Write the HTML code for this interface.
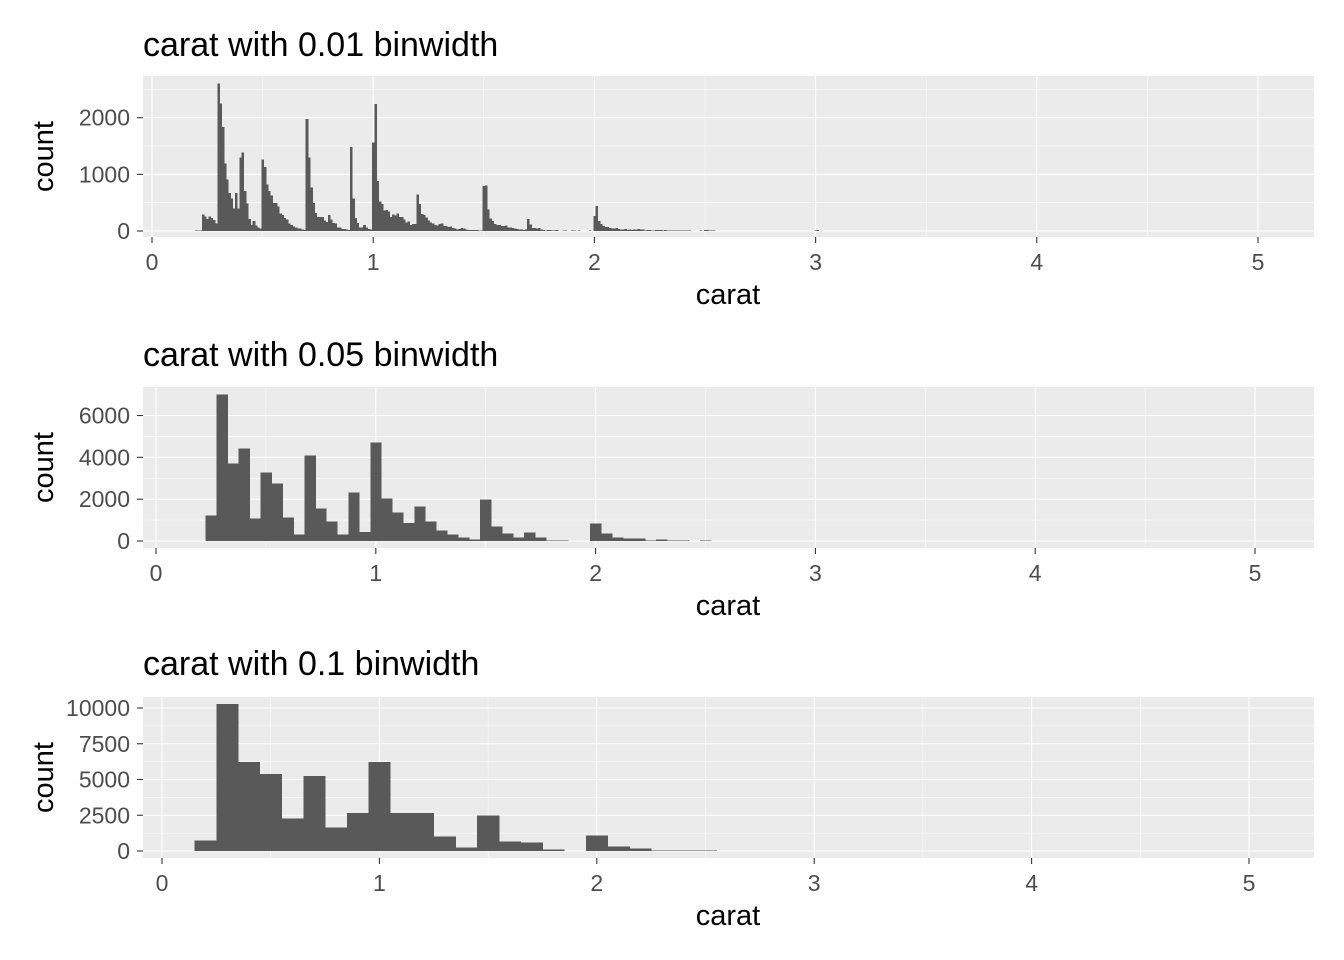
<!DOCTYPE html>
<html><head><meta charset="utf-8"><style>
body{margin:0;background:#fff;}
svg{display:block;font-family:"Liberation Sans",Arial,sans-serif;}
</style></head><body>
<svg id="chart" width="1344" height="960" viewBox="0 0 1344 960"></svg>
<script>
// Panel 1: 0.01 binwidth, bin centers starting at 0.20
const p1Start = 0.20;
const p1Counts = [12,9,5,293,254,212,253,233,198,130,
2604,2249,1840,1189,910,667,572,394,670,398,
1299,1382,706,488,212,110,178,99,63,45,
1258,1127,817,709,625,496,492,430,310,282,
228,204,135,102,80,65,48,48,25,20,
1981,1294,764,492,322,249,251,251,187,155,
284,200,140,131,64,62,34,31,23,21,
1485,570,226,142,59,65,103,59,31,23,
1558,2242,883,523,475,361,373,342,246,287,
278,308,251,246,207,149,172,110,123,126,
645,473,300,279,236,187,146,134,106,101,
122,133,89,87,68,77,50,46,26,36,
50,40,25,19,18,15,14,21,7,13,
793,807,381,220,174,124,108,106,89,89,
95,64,61,50,43,32,30,25,19,24,
215,119,57,52,40,50,28,17,12,15,
21,9,13,18,4,3,9,7,4,4,
7,12,2,6,3,3,4,4,5,3,
265,440,177,122,86,67,72,50,41,45,
52,37,27,29,38,22,27,20,30,24,
31,23,26,13,16,14,13,12,20,17,
21,13,16,9,5,7,8,9,8,6,
13,5,8,6,4,4,4,3,9,3,
17,17,9,8,9,3];
const p1ExtraCarat = [3.00,3.01,3.02,3.04,3.05,3.11,3.22,3.24,3.40,3.50,3.51,3.65,3.67,4.00,4.01,4.13,4.50,5.01];
const p1ExtraCount = [8,14,3,2,1,1,1,1,1,1,1,1,1,1,2,1,1,1];
// Panel 2: 0.05 binwidth, bins start at 0.225
const p2Start = 0.225;
const p2Counts = [1225,7000,3705,4420,1080,3275,2750,1130,318,4086,
1558,938,318,2321,429,4706,2035,1367,859,1654,
938,509,318,175,80,1988,700,366,175,413,
175,30,30,0,0,843,366,175,127,127,
30,80,30,30,0,30];
// Panel 3: 0.1 binwidth, bins start at 0.15
const p3Start = 0.15;
const p3Counts = [748,10278,6214,5373,2289,5233,1659,2640,6214,2640,
2640,1028,257,2500,677,607,117,0,1098,327,
187,47,47,40];
const xTicks = [0,1,2,3,4,5];
const p1YTicks = [0,1000,2000];
const p2YTicks = [0,2000,4000,6000];
const p3YTicks = [0,2500,5000,7500,10000];

const NS='http://www.w3.org/2000/svg';
const svg=document.getElementById('chart');
function mk(tag,attrs,parent){const e=document.createElementNS(NS,tag);for(const k in attrs)e.setAttribute(k,attrs[k]);(parent||svg).appendChild(e);return e;}

const panels=[
 {title:'carat with 0.01 binwidth',top:76,bot:237,x0:152,x5:1258,y0:231,yRef:2000,yRefPx:117.7,yTicks:p1YTicks,minorY:[500,1500,2500],bw:0.01,start:p1Start-0.005,counts:p1Counts,titleY:56,key:'p1'},
 {title:'carat with 0.05 binwidth',top:387,bot:548,x0:156,x5:1255,y0:541,yRef:6000,yRefPx:415.5,yTicks:p2YTicks,minorY:[1000,3000,5000],bw:0.05,start:p2Start,counts:p2Counts,titleY:366,key:'p2'},
 {title:'carat with 0.1 binwidth',top:697,bot:858,x0:162,x5:1249,y0:851,yRef:10000,yRefPx:708,yTicks:p3YTicks,minorY:[1250,3750,6250,8750],bw:0.1,start:p3Start,counts:p3Counts,titleY:675,key:'p3'}
];
const L=143,R=1314;
panels.forEach(p=>{
  const xs=v=>p.x0+(p.x5-p.x0)*v/5;
  const ys=v=>p.y0-(p.y0-p.yRefPx)*v/p.yRef;
  const g=mk('g',{});
  
  
  const bg=mk('rect',{x:L,y:p.top,width:R-L,height:p.bot-p.top,fill:'#ebebeb'},g);
  
  
  p.minorY.forEach(v=>{const y=ys(v);if(y>p.top)mk('line',{x1:L,x2:R,y1:y,y2:y,stroke:'#fff','stroke-width':0.55},g);});
  [0.5,1.5,2.5,3.5,4.5].forEach(v=>{const x=xs(v);mk('line',{x1:x,x2:x,y1:p.top,y2:p.bot,stroke:'#fff','stroke-width':0.55},g);});
  p.yTicks.forEach(v=>{const y=ys(v);mk('line',{x1:L,x2:R,y1:y,y2:y,stroke:'#fff','stroke-width':1.1},g);
    mk('line',{x1:137,x2:143,y1:y,y2:y,stroke:'#333','stroke-width':1.1},g);
    const t=mk('text',{x:130,y:y+8,'text-anchor':'end','font-size':'23px',fill:'#4d4d4d'},g);t.textContent=v;
    
    });
  xTicks.forEach(v=>{const x=xs(v);mk('line',{x1:x,x2:x,y1:p.top,y2:p.bot,stroke:'#fff','stroke-width':1.1},g);
    mk('line',{x1:x,x2:x,y1:p.bot,y2:p.bot+6,stroke:'#333','stroke-width':1.1},g);
    const t=mk('text',{x:x,y:p.bot+33,'text-anchor':'middle','font-size':'23px',fill:'#4d4d4d'},g);t.textContent=v;
    
    });
  const bars=mk('g',{fill:'#595959','shape-rendering':'crispEdges'},g);
  
  
  p.counts.forEach((c,i)=>{if(c<=0)return;const a=p.start+i*p.bw;const x1=xs(a),x2=xs(a+p.bw);
    const r=mk('rect',{x:x1,y:ys(c),width:x2-x1+0.4,height:p.y0-ys(c)},bars);
    
    });
  if(p.key==='p1'){p1ExtraCarat.forEach((cv,i)=>{const a=cv-0.005;const x1=xs(a),x2=xs(a+0.01);const c=p1ExtraCount[i];
    const r=mk('rect',{x:x1,y:ys(c),width:x2-x1,height:p.y0-ys(c)},bars);
    
    });}
  const tt=mk('text',{x:143,y:p.titleY,'font-size':'34px',fill:'#000'},g);tt.textContent=p.title;
  
  
  const xt=mk('text',{x:728,y:p.bot+67,'text-anchor':'middle','font-size':'29px',fill:'#000'},g);xt.textContent='carat';
  
  
  const cy=(p.top+p.bot)/2;
  const yt=mk('text',{x:0,y:0,transform:`translate(53,${cy}) rotate(-90)`,'text-anchor':'middle','font-size':'29px',fill:'#000'},g);yt.textContent='count';
  
  
});
</script>
</body></html>
